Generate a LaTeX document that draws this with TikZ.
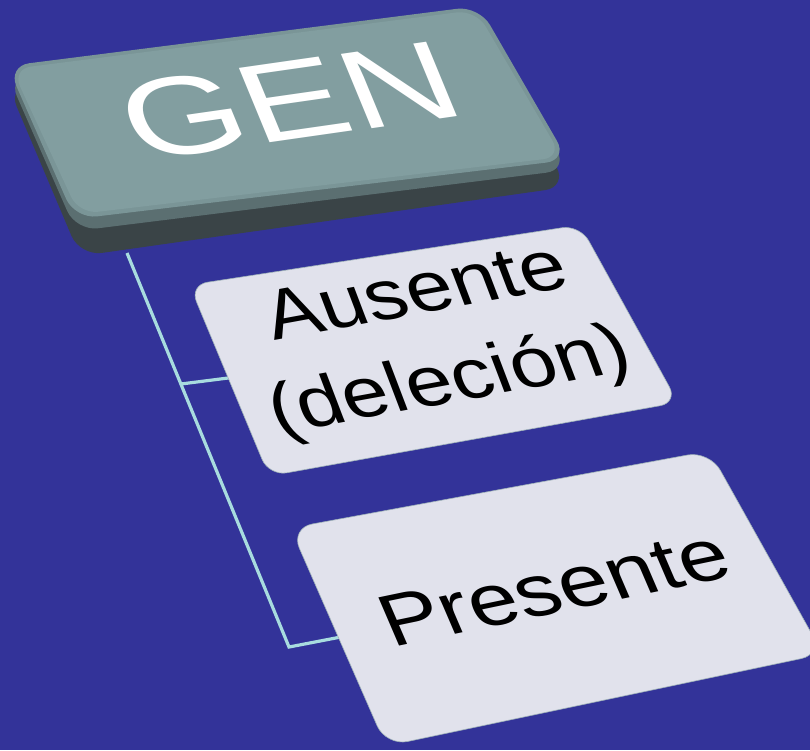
\documentclass[tikz,border=0pt]{standalone}
\usepackage{fontspec}
\setmainfont{Liberation Sans}
\usetikzlibrary{calc}
\definecolor{bg}{HTML}{333399}
\definecolor{genface}{HTML}{829EA0}
\definecolor{genedge}{HTML}{7A9597}
\definecolor{genside}{HTML}{5B6F71}
\definecolor{genbody}{HTML}{3A4447}
\definecolor{boxfill}{HTML}{E1E2EC}
\definecolor{boxline}{HTML}{9FB2B8}
\definecolor{linkcol}{HTML}{A8DCDF}
\tikzset{
  link/.style={draw=linkcol, line width=3.2pt, line join=miter},
  itembox/.style={fill=boxfill, draw=boxline, line width=0.6pt, rounded corners=18pt},
  gentext/.style={inner sep=0pt, transform shape, font=\fontsize{135}{140}\selectfont, text=white},
  itemtext/.style={inner sep=0pt, transform shape, align=center, text=black}
}
\begin{document}
\begin{tikzpicture}[x=1pt,y=-1pt]
\useasboundingbox (0,0) rectangle (810,750);
\clip (0,0) rectangle (810,750);
\fill[bg] (0,0) rectangle (810,750);

% connectors
\coordinate (tt) at (127,253);
\coordinate (j2) at (289,647);
\coordinate (j1) at ($(tt)!0.3325!(j2)$);
\coordinate (a1) at (236,377);
\coordinate (p1) at (346,636);
\draw[link] (tt) -- (j2) -- (p1);
\draw[link] (j1) -- (a1);

% GEN block
\fill[genbody, rounded corners=22pt] (8,86) -- (481,24) -- (567,187) -- (80,256) -- cycle;
\fill[genside, rounded corners=22pt] (8,76) -- (480,16) -- (568,170) -- (76,231) -- cycle;
\fill[genedge, rounded corners=22pt] (7.5,66) -- (479,6) -- (568,160) -- (75,219) -- cycle;
\fill[genface, rounded corners=19pt] (12,69) -- (476,10) -- (562,157) -- (79,214) -- cycle;

\begin{scope}[shift={(289,101)}, cm={1.13,0.162,-0.33,0.80,(0,0)}]
  \node[gentext] (gen) at (0,0) {GEN};
\end{scope}

% item boxes
\draw[itembox] (189.5,285) -- (580,225) -- (678,402.5) -- (269,476) -- cycle;
\draw[itembox, rounded corners=22pt] (290.5,528) -- (709.5,451) -- (823,654) -- (386,746) -- cycle;

\begin{scope}[shift={(434,341)}, cm={1.1,0.2,-0.35,0.92,(0,0)}]
  \node[itemtext, font=\fontsize{74}{96}\selectfont] (ausente) at (0,0) {Ausente\\(deleción)};
\end{scope}
\begin{scope}[shift={(554,588)}, cm={1.075,0.224,-0.376,0.875,(0,0)}]
  \node[itemtext, font=\fontsize{80}{90}\selectfont] (presente) at (0,0) {Presente};
\end{scope}
\end{tikzpicture}
\end{document}
